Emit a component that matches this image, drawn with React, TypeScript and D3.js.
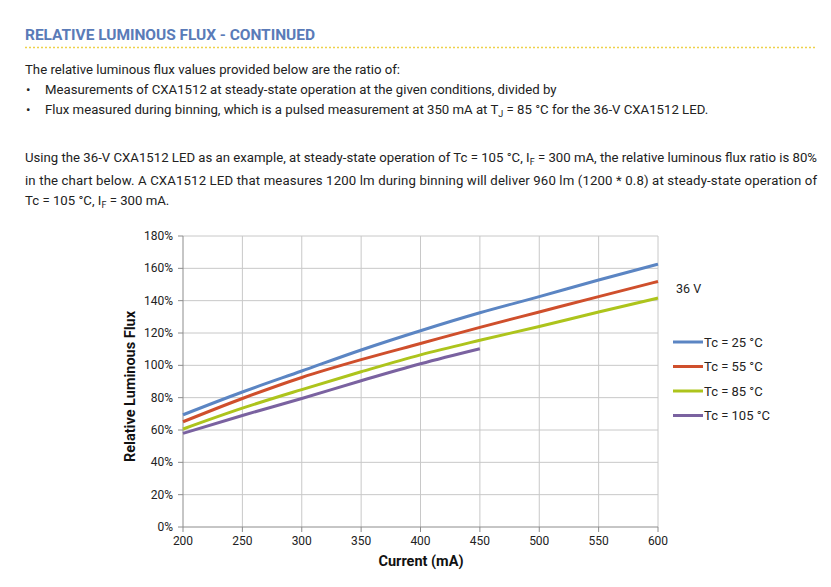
import React from "react";
import * as d3 from "d3";

const currents = [200, 250, 300, 350, 400, 450, 500, 550, 600];
const tc25 = [69.4, 83.5, 96.5, 109.5, 121.4, 132.5, 142.5, 152.8, 162.6];
const tc55 = [65.1, 79.5, 92.5, 103.5, 113.5, 123.5, 133, 142.5, 151.9];
const tc85 = [60.6, 73.5, 85, 96, 106.5, 115.5, 124, 133, 141.6];
const tc105 = [57.9, 69, 79.5, 90.5, 101, 110.3];
const seriesNames = ["Tc = 25 °C", "Tc = 55 °C", "Tc = 85 °C", "Tc = 105 °C"];
const seriesColors = ["#5b85c3", "#cf4f2c", "#adc41c", "#7a62a0"];
const xTicks = [200, 250, 300, 350, 400, 450, 500, 550, 600];
const yTicks = [0, 20, 40, 60, 80, 100, 120, 140, 160, 180];

const FONT = "Roboto, 'Noto Sans', sans-serif";

export default function App() {
  const left = 183, right = 658, top = 236, bottom = 527;
  const x = d3.scaleLinear().domain([200, 600]).range([left, right]);
  const y = d3.scaleLinear().domain([0, 180]).range([bottom, top]);
  const all = [tc25, tc55, tc85, tc105];
  const line = d3
    .line<[number, number]>()
    .x((d) => x(d[0]))
    .y((d) => y(d[1]))
    .curve(d3.curveMonotoneX);

  const sub = (t: string) => (
    <tspan fontSize={9} dy={3}>{t}</tspan>
  );

  return (
    <svg
      width={831}
      height={587}
      style={{ position: "absolute", left: 0, top: 0, background: "#fff" }}
      fontFamily={FONT}
    >
      <rect x={0} y={0} width={831} height={587} fill="#fff" />
      <text x={25} y={40} fontSize={15.5} fontWeight="bold" fill="#5a7bb8" textLength={290} lengthAdjust="spacing">
        RELATIVE LUMINOUS FLUX - CONTINUED
      </text>
      <line x1={25} x2={815} y1={47.5} y2={47.5} stroke="#eed14a" strokeWidth={1.5} strokeDasharray="2,2" />

      <g fontSize={13.2} fill="#222">
        <text x={25} y={74}>The relative luminous flux values provided below are the ratio of:</text>
        <text x={26} y={94}>•</text>
        <text x={45} y={94}>Measurements of CXA1512 at steady-state operation at the given conditions, divided by</text>
        <text x={26} y={114}>•</text>
        <text x={45} y={114}>
          Flux measured during binning, which is a pulsed measurement at 350 mA at T{sub("J")}
          <tspan dy={-3}> = 85 °C for the 36-V CXA1512 LED.</tspan>
        </text>
        <text x={25} y={162} textLength={792} lengthAdjust="spacing">
          Using the 36-V CXA1512 LED as an example, at steady-state operation of Tc = 105 °C, I{sub("F")}
          <tspan dy={-3}> = 300 mA, the relative luminous flux ratio is 80%</tspan>
        </text>
        <text x={25} y={185} textLength={792} lengthAdjust="spacing">
          in the chart below. A CXA1512 LED that measures 1200 lm during binning will deliver 960 lm (1200 * 0.8) at steady-state operation of
        </text>
        <text x={25} y={205}>
          Tc = 105 °C, I{sub("F")}
          <tspan dy={-3}> = 300 mA.</tspan>
        </text>
      </g>

      {/* grid */}
      <g stroke="#c8c8c8" strokeWidth={1}>
        {yTicks.filter((t) => t > 0).map((t) => (
          <line key={"h" + t} x1={left} x2={right} y1={y(t)} y2={y(t)} />
        ))}
        {xTicks.filter((t) => t > 200).map((t) => (
          <line key={"v" + t} x1={x(t)} x2={x(t)} y1={top} y2={bottom} />
        ))}
      </g>
      {/* axes */}
      <g stroke="#8c8c8c" strokeWidth={1}>
        <line x1={left} x2={left} y1={top} y2={bottom} />
        <line x1={left} x2={right} y1={bottom} y2={bottom} />
        {yTicks.map((t) => (
          <line key={"yt" + t} x1={left - 5} x2={left} y1={y(t)} y2={y(t)} />
        ))}
        {xTicks.map((t) => (
          <line key={"xt" + t} x1={x(t)} x2={x(t)} y1={bottom} y2={bottom + 5} />
        ))}
      </g>
      <g fontSize={12} fill="#222">
        {yTicks.map((t) => (
          <text key={"yl" + t} x={left - 10} y={y(t) + 4} textAnchor="end">
            {t}%
          </text>
        ))}
        {xTicks.map((t) => (
          <text key={"xl" + t} x={x(t)} y={545} textAnchor="middle">
            {t}
          </text>
        ))}
      </g>
      <text x={421} y={566} fontSize={14.5} fontWeight="bold" textAnchor="middle" fill="#111">
        Current (mA)
      </text>
      <text
        transform={`translate(135,${(top + bottom) / 2 + 5}) rotate(-90)`}
        fontSize={14.5}
        fontWeight="bold"
        textAnchor="middle"
        fill="#111"
      >
        Relative Luminous Flux
      </text>

      {all.map((vals, i) => (
        <path
          key={"s" + i}
          d={line(vals.map((v, j) => [currents[j], v] as [number, number])) || ""}
          fill="none"
          stroke={seriesColors[i]}
          strokeWidth={3}
        />
      ))}

      <text x={676} y={293} fontSize={12.5} fill="#222">36 V</text>
      {seriesNames.map((n, i) => (
        <g key={"lg" + i}>
          <line x1={673} x2={703} y1={342 + i * 24.5} y2={342 + i * 24.5} stroke={seriesColors[i]} strokeWidth={3} />
          <text x={704} y={346.5 + i * 24.5} fontSize={13} fill="#222">{n}</text>
        </g>
      ))}
    </svg>
  );
}
